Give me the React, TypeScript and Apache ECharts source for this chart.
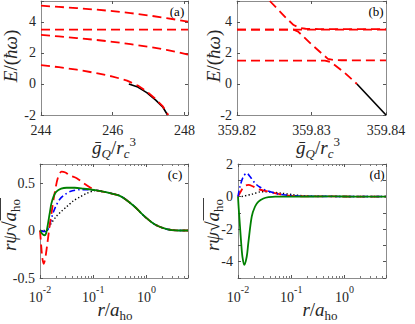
import React, { useEffect, useRef } from 'react';
import * as echarts from 'echarts';

// ---------- Panel (a) ----------
const aX = [244, 244.5, 245, 245.5, 246, 246.5, 247, 247.5, 248.1];
const aLevel1 = [5.05, 4.97, 4.89, 4.8, 4.7, 4.57, 4.42, 4.25, 4.02];
const aLevel3 = [3.16, 3.07, 2.96, 2.85, 2.72, 2.57, 2.4, 2.2, 1.9];
const aFlatX = [244, 248.1];
const aFlatY = [3.5, 3.5];
const aLevel4X = [244, 244.5, 245, 245.5, 246, 246.4, 246.7, 246.95, 247.2, 247.4, 247.55];
const aLevel4Y = [1.22, 1.08, 0.92, 0.72, 0.48, 0.22, -0.1, -0.48, -0.98, -1.45, -2];
const aBlackX = [246.45, 246.7, 246.95, 247.2, 247.4, 247.53];
const aBlackY = [0, -0.2, -0.56, -1.04, -1.5, -2];

// ---------- Panel (b) ----------
const bFlatX = [359.82, 359.84];
const bFlatY = [3.5, 3.5];
const bUpperX = [359.8244, 359.8255, 359.8266, 359.8276, 359.8284, 359.8292, 359.831, 359.84];
const bUpperY = [5.35, 4.8, 4.25, 3.8, 3.62, 3.56, 3.54, 3.53];
const bMiddleX = [359.82, 359.8276, 359.8282, 359.83, 359.8322, 359.833, 359.834, 359.84];
const bMiddleY = [3.5, 3.5, 3.38, 2.55, 1.62, 1.55, 1.53, 1.52];
const bLowerX = [359.82, 359.8318, 359.8326, 359.8345, 359.8361];
const bLowerY = [1.5, 1.5, 1.42, 0.7, 0.0];
const bBlackX = [359.8361, 359.84];
const bBlackY = [0.0, -2];

// ---------- Panel (c) ----------
const cTailX = [0.15, 0.2, 0.3, 0.4, 0.6, 0.8, 1.0, 1.3, 1.6, 2, 2.5, 3, 4, 6];
const cTailY = [0.41, 0.395, 0.37, 0.33, 0.25, 0.18, 0.13, 0.08, 0.05, 0.028, 0.012, 0.005, 0, 0];
const cRedX = [0.01, 0.0105, 0.011, 0.0117, 0.0125, 0.0135, 0.0151, 0.0168, 0.0188, 0.0218, 0.0254, 0.03, 0.036, 0.049, 0.065, 0.089, 0.11];
const cRedY = [0.0, -0.15, -0.28, -0.35, -0.3, -0.17, 0.04, 0.22, 0.39, 0.56, 0.62, 0.61, 0.58, 0.55, 0.5, 0.45, 0.425];
const cBlueX = [0.01, 0.0115, 0.0133, 0.015, 0.0175, 0.02, 0.0235, 0.028, 0.0366, 0.057, 0.08, 0.11];
const cBlueY = [0, -0.01, -0.01, 0.05, 0.18, 0.26, 0.33, 0.37, 0.41, 0.43, 0.43, 0.425];
const cDotX = [0.01, 0.0133, 0.016, 0.0203, 0.025, 0.0316, 0.042, 0.057, 0.075, 0.11];
const cDotY = [0, 0, 0.07, 0.15, 0.2, 0.25, 0.31, 0.355, 0.39, 0.42];
const cGreenX = [0.01, 0.011, 0.0121, 0.013, 0.014, 0.0152, 0.0163, 0.018, 0.0203, 0.025, 0.0316, 0.045, 0.066, 0.11];
const cGreenY = [0, -0.035, -0.05, -0.03, 0.06, 0.18, 0.28, 0.36, 0.41, 0.44, 0.45, 0.45, 0.44, 0.425];

// ---------- Panel (d) ----------
const dTailX = [0.5, 1, 2, 6];
const dTailY = [0.01, 0.005, 0, 0];
const dRedX = [0.01, 0.0117, 0.0135, 0.0156, 0.0195, 0.024, 0.037, 0.0576, 0.089, 0.15, 0.3];
const dRedY = [0, 0.41, 0.66, 0.72, 0.61, 0.45, 0.31, 0.16, 0.06, 0.02, 0.012];
const dBlueX = [0.01, 0.0109, 0.0126, 0.0146, 0.0168, 0.0209, 0.026, 0.0323, 0.0498, 0.077, 0.13, 0.2, 0.4];
const dBlueY = [0, 0.61, 1.23, 1.43, 1.23, 0.82, 0.57, 0.41, 0.2, 0.1, 0.04, 0.02, 0.01];
const dDotX = [0.0117, 0.0181, 0.028, 0.0433, 0.068, 0.105, 0.18, 0.4];
const dDotY = [0, 0.14, 0.3, 0.27, 0.2, 0.12, 0.04, 0.01];
const dGreenX = [0.01, 0.0103, 0.0109, 0.0115, 0.0121, 0.0131, 0.0146, 0.0156, 0.0181, 0.0209, 0.0242, 0.03, 0.0373, 0.05, 0.1];
const dGreenY = [0, -0.7, -1.84, -2.9, -3.68, -4.19, -3.68, -2.86, -1.23, -0.61, -0.31, -0.12, -0.04, 0.0, 0];

// tick label lists
const aYTicks = [-2, 0, 2, 4];
const aXTicks = [244, 246, 248];
const bXTicks = ['359.82', '359.83', '359.84'];
const cYTicks = [-0.5, 0, 0.5];
const dYTicks = [-4, -2, 0, 2];
const logTicks = [-2, -1, 0];

const FONT = 'Liberation Serif';
const TXT = '#262626';
const AXC = '#8c8c8c';

const zip = (xs: number[], ys: number[]) => xs.map((x, i) => [x, ys[i]]);

const RED = { color: '#ff0000', width: 1.8, type: [9, 5] as any };
const BLACK = { color: '#000000', width: 1.6, type: 'solid' as any };
const BLUE = { color: '#0000ff', width: 1.6, type: [6, 3, 1.5, 3] as any };
const DOT = { color: '#000000', width: 1.4, type: [1.3, 2.2] as any };
const GREEN = { color: '#008000', width: 1.8, type: 'solid' as any };

function inList(v: number, list: number[]) {
  return list.some((t) => Math.abs(t - v) < 1e-6);
}

function logLabel(v: number) {
  const l = Math.log10(v);
  const e = Math.round(l);
  if (Math.abs(l - e) > 1e-6 || !logTicks.includes(e)) return '';
  return `{b|10}{s|${e}}`;
}

const logRich = {
  b: { fontFamily: FONT, fontSize: 14, color: TXT, lineHeight: 20, verticalAlign: 'bottom' },
  s: { fontFamily: FONT, fontSize: 10, color: TXT, lineHeight: 10, verticalAlign: 'top' },
};

function axisCommon() {
  return {
    axisLine: { show: true, onZero: false, lineStyle: { color: AXC, width: 1 } },
    axisTick: { show: true, inside: true, length: 3, lineStyle: { color: '#555' } },
    splitLine: { show: false },
  };
}

function xAxes(grid: number, base: any, labelCfg: any) {
  return [
    {
      gridIndex: grid,
      position: 'bottom',
      ...base,
      ...axisCommon(),
      axisLabel: { fontFamily: FONT, fontSize: 14, color: TXT, margin: 8, ...labelCfg },
    },
    {
      gridIndex: grid,
      position: 'top',
      ...base,
      ...axisCommon(),
      axisLabel: { show: false },
    },
  ];
}

function yAxes(grid: number, base: any, labelCfg: any) {
  return [
    {
      gridIndex: grid,
      position: 'left',
      ...base,
      ...axisCommon(),
      axisLabel: { fontFamily: FONT, fontSize: 14, color: TXT, margin: 5, ...labelCfg },
    },
    {
      gridIndex: grid,
      position: 'right',
      ...base,
      ...axisCommon(),
      axisLabel: { show: false },
    },
  ];
}

function line(grid: number, xs: number[], ys: number[], ls: any, smooth: number | boolean = false) {
  return {
    type: 'line',
    xAxisIndex: grid * 2,
    yAxisIndex: grid * 2,
    data: zip(xs, ys),
    showSymbol: false,
    symbol: 'none',
    smooth,
    lineStyle: ls,
    silent: true,
  };
}

const NF = 19;
const LH = 25;
const richAxisName = {
  i: { fontFamily: FONT, fontSize: NF, fontStyle: 'italic', fill: TXT, color: TXT, lineHeight: LH, verticalAlign: 'middle' },
  n: { fontFamily: FONT, fontSize: NF, fill: TXT, color: TXT, lineHeight: LH, verticalAlign: 'middle' },
  sub: { fontFamily: FONT, fontSize: 13, fill: TXT, color: TXT, lineHeight: 13, verticalAlign: 'bottom' },
  subi: { fontFamily: FONT, fontSize: 13, fontStyle: 'italic', fill: TXT, color: TXT, lineHeight: 13, verticalAlign: 'bottom' },
  sup: { fontFamily: FONT, fontSize: 13, fill: TXT, color: TXT, lineHeight: 13, verticalAlign: 'top' },
};

function txt(x: number, y: number, text: string, rotation = 0) {
  return {
    type: 'text',
    x,
    y,
    rotation,
    silent: true,
    style: { text, rich: richAxisName, textAlign: 'center', textVerticalAlign: 'middle', fill: TXT },
  };
}

function panelLabel(x: number, y: number, text: string) {
  return {
    type: 'text',
    x,
    y,
    silent: true,
    style: { text, font: `13px "${FONT}"`, fill: '#000', textAlign: 'center', textVerticalAlign: 'middle' },
  };
}

function rpsiLabel(x: number, y: number) {
  return {
    type: 'group',
    x,
    y,
    rotation: Math.PI / 2,
    silent: true,
    children: [
      {
        type: 'text',
        x: 0,
        y: 0,
        style: { text: '{i|rψ}{n|√}{i|a}{sub|ho}', rich: richAxisName, textAlign: 'center', textVerticalAlign: 'middle', fill: TXT },
      },
      {
        type: 'line',
        shape: { x1: 4.5, y1: -8.5, x2: 27, y2: -8.5 },
        style: { stroke: TXT, lineWidth: 0.9 },
      },
    ],
  };
}

export default function App() {
  const ref = useRef<HTMLDivElement>(null);
  useEffect(() => {
    document.body.style.margin = '0';
    if (!ref.current) return;
    const chart = echarts.init(ref.current, undefined, { renderer: 'svg' });
    const logMinor = { show: true, splitNumber: 9, length: 2, lineStyle: { color: '#777' } };
    const option: any = {
      animation: false,
      backgroundColor: '#ffffff',
      grid: [
        { left: 41, top: 1, width: 147, height: 114 },
        { left: 237, top: 1, width: 149, height: 114 },
        { left: 40, top: 164, width: 148, height: 114 },
        { left: 238, top: 164, width: 148, height: 114 },
      ],
      xAxis: [
        ...xAxes(0, { type: 'value', min: 244, max: 248.1, interval: 2 }, {
          formatter: (v: number) => (inList(v, aXTicks) ? String(v) : ''),
        }),
        ...xAxes(1, { type: 'value', min: 359.82, max: 359.84, interval: 0.01 }, {
          formatter: (v: number) => (bXTicks.includes(v.toFixed(2)) ? v.toFixed(2) : ''),
        }),
        ...xAxes(2, { type: 'log', logBase: 10, min: 0.01, max: 6, minorTick: logMinor }, {
          formatter: logLabel,
          rich: logRich,
          margin: 6,
        }),
        ...xAxes(3, { type: 'log', logBase: 10, min: 0.01, max: 6, minorTick: logMinor }, {
          formatter: logLabel,
          rich: logRich,
          margin: 6,
        }),
      ],
      yAxis: [
        ...yAxes(0, { type: 'value', min: -2, max: 5.35, interval: 2 }, {
          formatter: (v: number) => (inList(v, aYTicks) ? String(v) : ''),
        }),
        ...yAxes(1, { type: 'value', min: -2, max: 5.35, interval: 2 }, {
          formatter: (v: number) => (inList(v, aYTicks) ? String(v) : ''),
        }),
        ...yAxes(2, { type: 'value', min: -0.5, max: 0.7, interval: 0.5 }, {
          formatter: (v: number) => (inList(v, cYTicks) ? String(v) : ''),
        }),
        ...yAxes(3, { type: 'value', min: -5, max: 2 }, {
          formatter: (v: number) => (inList(v, dYTicks) ? String(v) : ''),
        }),
      ],
      series: [
        line(0, aX, aLevel1, RED),
        line(0, aFlatX, aFlatY, RED),
        line(0, aX, aLevel3, RED),
        line(0, aBlackX, aBlackY, BLACK),
        line(0, aLevel4X, aLevel4Y, RED),
        line(1, bFlatX, bFlatY, RED),
        line(1, bUpperX, bUpperY, RED),
        line(1, bMiddleX, bMiddleY, RED),
        line(1, bLowerX, bLowerY, RED),
        line(1, bBlackX, bBlackY, BLACK),
        line(2, [...cDotX, ...cTailX], [...cDotY, ...cTailY], DOT, 0.3),
        line(2, [...cBlueX, ...cTailX], [...cBlueY, ...cTailY], BLUE, 0.3),
        line(2, [...cRedX, ...cTailX], [...cRedY, ...cTailY], RED, 0.3),
        line(2, [...cGreenX, ...cTailX], [...cGreenY, ...cTailY], GREEN, 0.3),
        line(3, [...dDotX, ...dTailX], [...dDotY, ...dTailY], DOT, 0.3),
        line(3, [...dRedX, ...dTailX], [...dRedY, ...dTailY], RED, 0.3),
        line(3, [...dBlueX, ...dTailX], [...dBlueY, ...dTailY], BLUE, 0.3),
        line(3, [...dGreenX, ...dTailX], [...dGreenY, ...dTailY], GREEN, 0.3),
      ],
      graphic: [
        txt(10, 56, '{i|E}{n|/(}{i|ħω}{n|)}', Math.PI / 2),
        txt(213, 56, '{i|E}{n|/(}{i|ħω}{n|)}', Math.PI / 2),
        txt(114, 147, '{i|ḡ}{subi|Q}{n|/}{i|r}{subi|c}{sup|3}'),
        txt(318, 147, '{i|ḡ}{subi|Q}{n|/}{i|r}{subi|c}{sup|3}'),
        rpsiLabel(9, 225),
        rpsiLabel(212, 225),
        txt(115, 309, '{i|r}{n|/}{i|a}{sub|ho}'),
        txt(320, 309, '{i|r}{n|/}{i|a}{sub|ho}'),
        panelLabel(177, 11, '(a)'),
        panelLabel(376, 11, '(b)'),
        panelLabel(175, 174, '(c)'),
        panelLabel(377, 174, '(d)'),
      ],
    };
    chart.setOption(option);
    return () => chart.dispose();
  }, []);
  return <div ref={ref} style={{ width: 415, height: 324 }} />;
}
